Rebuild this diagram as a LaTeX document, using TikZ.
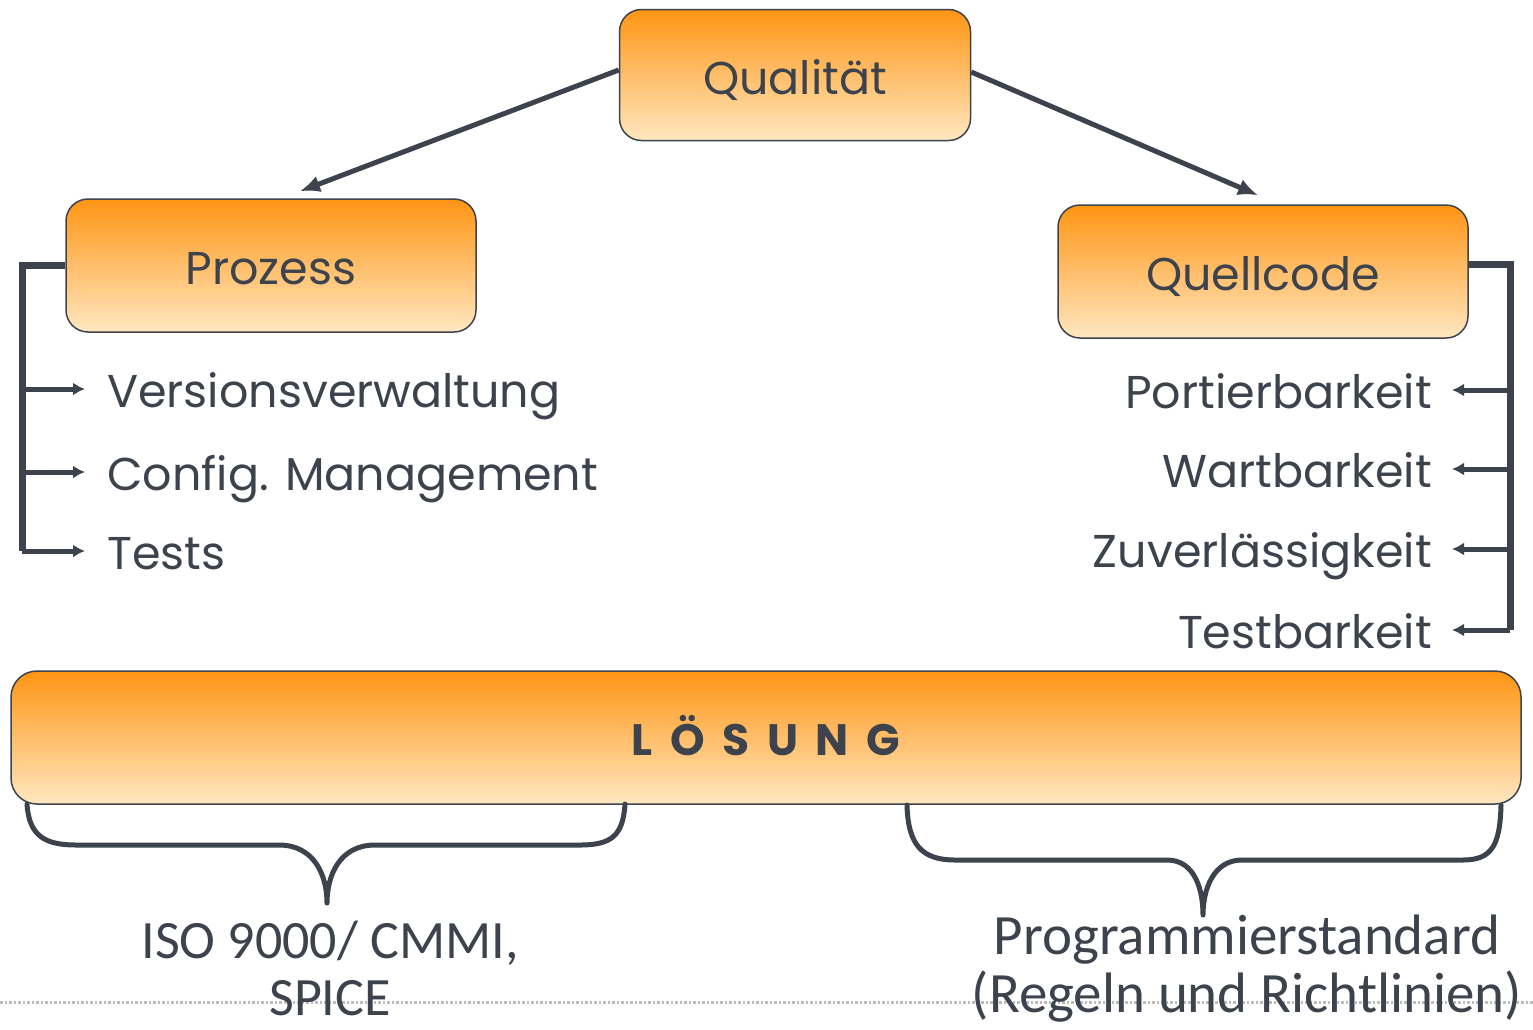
\documentclass[tikz,border=0pt]{standalone}
\usepackage{fontspec}
\setmainfont{Poppins}
\newfontfamily\narrowfont{Carlito}
\usetikzlibrary{arrows.meta, positioning}
\definecolor{boxorange}{HTML}{FF9514}
\definecolor{boxmid}{HTML}{FFC585}
\definecolor{boxlight}{HTML}{FFE7C0}
\definecolor{inkgray}{HTML}{3C434C}
\definecolor{dotgray}{HTML}{BDBDBD}
\newcommand{\itemsize}{\fontsize{46}{54}\selectfont}
\tikzset{
    title box/.style={draw=inkgray, line width=1.5pt, rounded corners=22pt,
        top color=boxorange, middle color=boxmid, bottom color=boxlight,
        text=inkgray, font=\itemsize, inner sep=0pt,
        text height=38pt, text depth=0pt},
    item/.style={text=inkgray, font=\itemsize, inner sep=0pt,
        text height=37pt, text depth=0pt},
    low text/.style={text=inkgray, font=\narrowfont\fontsize{54}{57}\selectfont,
        align=center, inner sep=0pt},
    down arrow/.style={draw=inkgray, line width=5pt,
        -{Latex[length=20pt, width=17pt]}},
    trunk/.style={draw=inkgray, line width=7pt},
    branch/.style={draw=inkgray, line width=5pt,
        -{Latex[length=12pt, width=13pt]}},
    brace/.style={draw=inkgray, line width=5pt, line cap=round, line join=round}
}
\begin{document}
\begin{tikzpicture}[x=1pt, y=-1pt]
    \useasboundingbox (0,0) rectangle (1533,1029);
    % dotted rule at the bottom
    \draw[dotgray, line width=3pt, dash pattern=on 2.5pt off 2pt] (0,1002) -- (1533,1002);

    % the boxes
    \node[title box, minimum width=351pt, minimum height=131pt] (qual) at (795,75) {Qualität};
    \node[title box, minimum width=410pt, minimum height=133pt] (proz) at (271,265.5) {Prozess};
    \node[title box, minimum width=410pt, minimum height=133pt] (quell) at (1263,271.5) {Quellcode};
    \node[title box, minimum width=1510pt, minimum height=133pt, rounded corners=26pt,
        text height=35pt, font=\fontsize{44}{52}\selectfont] (lsg) at (766,737.5)
        {\bfseries L\hspace{0.4em}Ö\hspace{0.4em}S\hspace{0.4em}U\hspace{0.4em}N\hspace{0.4em}G};

    % arrows from Qualität
    \draw[down arrow] ([yshift=5pt]qual.west) -- ([xshift=29pt, yshift=7pt]proz.north);
    \draw[down arrow] ([yshift=3pt]qual.east) -- ([xshift=-5pt, yshift=9pt]quell.north);

    % Prozess items
    \node[item, anchor=west] (vers) at (107,389) {Versionsverwaltung};
    \node[item, anchor=west] (conf) at (107,472) {Config. Management};
    \node[item, anchor=west] (tests) at (107,551) {Tests};
    \coordinate (ltrunk) at (22,551);
    \draw[trunk] (proz.west) -| (ltrunk);
    \foreach \it in {vers, conf, tests}
        \draw[branch] (ltrunk |- \it.west) -- ([xshift=-22pt]\it.west);

    % Quellcode items
    \node[item, anchor=east] (port) at (1432,390) {Portierbarkeit};
    \node[item, anchor=east] (wart) at (1432,469) {Wartbarkeit};
    \node[item, anchor=east] (zuv) at (1432,549) {Zuverlässigkeit};
    \node[item, anchor=east] (testb) at (1432,630) {Testbarkeit};
    \coordinate (rtrunk) at (1510,630);
    \draw[trunk] ([yshift=7pt]quell.east) -| (rtrunk);
    \foreach \it in {port, wart, zuv, testb}
        \draw[branch] (rtrunk |- \it.east) -- ([xshift=20pt]\it.east);

    % braces under LÖSUNG
    \draw[brace] (27,804) .. controls (29,836) and (45,845) .. (76,845) -- (279,845)
        .. controls (314,845) and (327,875) .. (327,903)
        .. controls (327,875) and (340,845) .. (375,845) -- (580,845)
        .. controls (611,845) and (623,836) .. (625,804);
    \draw[brace] (907,805) .. controls (908,845) and (922,860) .. (955,860) -- (1167,860)
        .. controls (1195,860) and (1203,890) .. (1203,915)
        .. controls (1203,890) and (1213,860) .. (1242,860) -- (1463,860)
        .. controls (1492,860) and (1500,845) .. (1501,805);

    % texts under the braces
    \node[low text, anchor=north] (iso) at (330,921) {ISO 9000/ CMMI,\\SPICE};
    \node[low text, anchor=north, font=\narrowfont\fontsize{57}{58}\selectfont] (prog) at (1247,915)
        {Programmierstandard\\(Regeln und Richtlinien)};
\end{tikzpicture}
\end{document}
